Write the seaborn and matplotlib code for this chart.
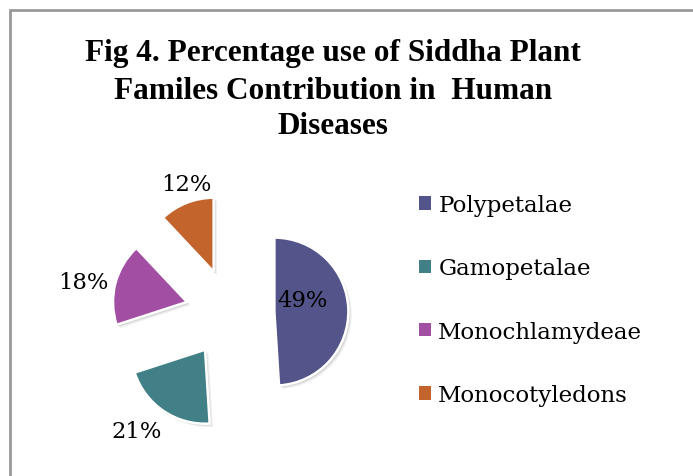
import matplotlib
matplotlib.use("Agg")
import matplotlib.pyplot as plt
import seaborn as sns
import numpy as np
from matplotlib.patches import Rectangle

# ---- data ----
families = ["Polypetalae", "Gamopetalae", "Monochlamydeae", "Monocotyledons"]
percent = [49, 21, 18, 12]
colors = ["#535489", "#428087", "#A24FA3", "#C3642D"]
title_lines = ["Fig 4. Percentage use of Siddha Plant",
               "Familes Contribution in  Human",
               "Diseases"]

# ---- style ----
sns.set_theme(style="white")
plt.rcParams["font.family"] = ["DejaVu Serif", "DejaVu Sans"]
plt.rcParams["text.color"] = "black"

W, H = 693, 477
fig = plt.figure(figsize=(W / 100, H / 100), dpi=100)
fig.patch.set_facecolor("white")

# outer chart frame (cropped at right / bottom)
fig.patches.append(Rectangle((9.5 / W, -0.1), 1.2, (H - 11) / H + 0.1,
                             transform=fig.transFigure, fill=False,
                             edgecolor="#999999", lw=2, zorder=0))

# pie axes: 74 px per data unit, pie centre at pixel (230, 314)
scale = 74.0
cx, cy = 230, 314
x0, x1 = 30, 430
ytop = 150
ax = fig.add_axes([x0 / W, 0, (x1 - x0) / W, (H - ytop) / H])

explode = [0.6, 0.6, 0.6, 0.6]

# soft shadow layer
for off, al in [(0.045, 0.10), (0.03, 0.15), (0.018, 0.2)]:
    ax.pie(percent, explode=explode, startangle=90, counterclock=False,
           colors=["#777777"] * 4, center=(off, -off),
           wedgeprops=dict(linewidth=0, alpha=al))

wedges, _ = ax.pie(percent, explode=explode, startangle=90,
                   counterclock=False, colors=colors,
                   wedgeprops=dict(edgecolor="white", linewidth=1.8))

label_r = [0.99, 2.03, 2.02, 1.84]
label_dang = [8.4, -4.0, 2.4, -2.8]
for w, p, r, da in zip(wedges, percent, label_r, label_dang):
    ang = np.deg2rad((w.theta1 + w.theta2) / 2 + da)
    ax.text(r * np.cos(ang), r * np.sin(ang), f"{p}%", ha="center",
            va="center", fontsize=16.3, color="black")

ax.set_xlim(-(cx - x0) / scale, (x1 - cx) / scale)
ax.set_ylim(-(H - cy) / scale, (cy - ytop) / scale)
ax.set_aspect("auto")
ax.axis("off")

# title
for line, yb in zip(title_lines, [61, 99, 134]):
    fig.text(333 / W, 1 - yb / H, line, ha="center", va="baseline",
             fontsize=22.5, fontweight="bold", color="black",
             family=["Liberation Serif"])

# legend
leg = fig.legend(wedges, families, loc="center left",
                 bbox_to_anchor=(419 / W, 1 - 301 / H), frameon=False,
                 fontsize=16.5, handlelength=0.53, handleheight=0.53,
                 handletextpad=0.31, labelspacing=1.8, borderpad=0,
                 borderaxespad=0, labelcolor="black")
for h in leg.legend_handles:
    h.set_edgecolor("none")

fig.savefig("out.png", dpi=100, facecolor="white")
